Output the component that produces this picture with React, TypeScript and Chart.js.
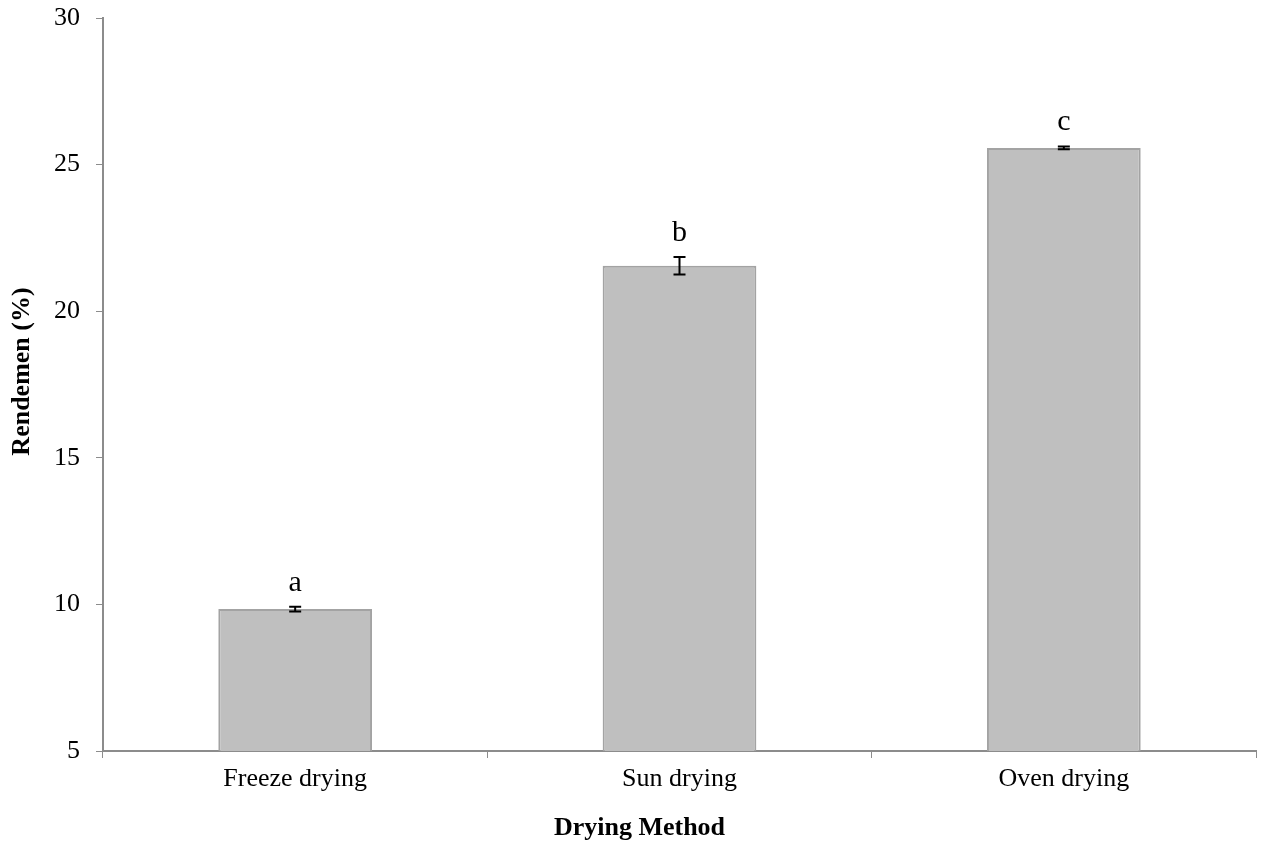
import React, { useEffect, useRef } from "react";
import { Chart, registerables } from "chart.js";

Chart.register(...registerables);

const categories = ["Freeze drying", "Sun drying", "Oven drying"];
const rendemen = [9.84, 21.55, 25.57];
const errors = [0.08, 0.3, 0.05];
const letters = ["a", "b", "c"];
const yTicks = [5, 10, 15, 20, 25, 30];
const xTitle = "Drying Method";
const yTitle = "Rendemen (%)";

const FONT = "'Liberation Serif', 'Times New Roman', serif";

const annotatePlugin = {
  id: "annotate",
  afterDatasetsDraw(chart: any) {
    const { ctx, scales } = chart;
    const x = scales.x;
    const y = scales.y;
    ctx.save();
    rendemen.forEach((v, i) => {
      const cx = x.getPixelForValue(i);
      const yTop = y.getPixelForValue(v + errors[i]);
      const yBot = y.getPixelForValue(v - errors[i]);
      ctx.strokeStyle = "#000";
      ctx.lineWidth = 2;
      ctx.beginPath();
      ctx.moveTo(cx, yTop);
      ctx.lineTo(cx, yBot);
      ctx.moveTo(cx - 6, yTop);
      ctx.lineTo(cx + 6, yTop);
      ctx.moveTo(cx - 6, yBot);
      ctx.lineTo(cx + 6, yBot);
      ctx.stroke();
      ctx.fillStyle = "#000";
      ctx.font = `30px ${FONT}`;
      ctx.textAlign = "center";
      ctx.textBaseline = "alphabetic";
      ctx.fillText(letters[i], cx, yTop - 16);
    });
    ctx.restore();
  },
  afterDraw(chart: any) {
    const { ctx, chartArea } = chart;
    ctx.save();
    ctx.fillStyle = "#000";
    ctx.font = `bold 26px ${FONT}`;
    ctx.textAlign = "center";
    ctx.textBaseline = "middle";
    ctx.fillText(xTitle, chartArea.left + (chartArea.right - chartArea.left) / 2 - 40, 828);
    ctx.translate(22, (chartArea.top + chartArea.bottom) / 2 - 13);
    ctx.rotate(-Math.PI / 2);
    ctx.fillText(yTitle, 0, 0);
    ctx.restore();
  },
};

export default function App() {
  const ref = useRef<HTMLCanvasElement>(null);
  useEffect(() => {
    document.body.style.margin = "0";
    const chart = new Chart(ref.current!, {
      type: "bar",
      data: {
        labels: categories,
        datasets: [
          {
            data: rendemen,
            backgroundColor: "#bfbfbf",
            borderColor: "#a3a3a3",
            borderWidth: 2,
            categoryPercentage: 1,
            barPercentage: 0.4,
          },
        ],
      },
      options: {
        animation: false,
        responsive: false,
        maintainAspectRatio: false,
        layout: { padding: { top: 18, right: 5, left: 0, bottom: 0 } },
        plugins: { legend: { display: false }, tooltip: { enabled: false } },
        scales: {
          x: {
            grid: {
              display: true,
              drawOnChartArea: false,
              tickLength: 7,
              color: "#8c8c8c",
              offset: true,
            },
            border: { color: "#8c8c8c", width: 2 },
            ticks: { color: "#000", font: { family: FONT, size: 26 }, padding: 6 },
            afterFit: (s: any) => {
              s.height = 94;
              s.paddingLeft = 0;
              s.paddingRight = 0;
            },
          },
          y: {
            min: 5,
            max: 30,
            afterBuildTicks: (s: any) => {
              s.ticks = yTicks.map((v) => ({ value: v }));
            },
            grid: {
              display: true,
              drawOnChartArea: false,
              tickLength: 7,
              color: "#8c8c8c",
            },
            border: { color: "#8c8c8c", width: 2 },
            ticks: { color: "#000", font: { family: FONT, size: 26 }, padding: 16 },
            afterFit: (s: any) => {
              s.width = 103;
              s.paddingTop = 0;
              s.paddingBottom = 0;
            },
          },
        },
      },
      plugins: [annotatePlugin],
    });
    return () => chart.destroy();
  }, []);
  return <canvas ref={ref} width={1261} height={845} style={{ display: "block" }} />;
}
